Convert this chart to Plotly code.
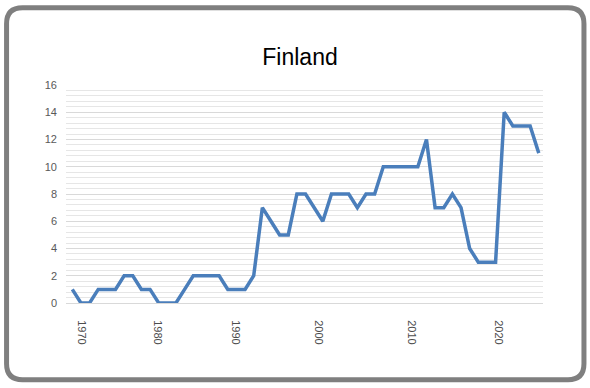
import plotly.graph_objects as go

# ---- data ----
years = list(range(1969, 2024))
values = [1, 0, 0, 1, 1, 1, 2, 2, 1, 1,
          0, 0, 0, 1, 2, 2, 2, 2, 1, 1,
          1, 2, 7, 6, 5, 5, 8, 8, 7, 6,
          8, 8, 8, 7, 8, 8, 10, 10, 10, 10,
          10, 12, 7, 7, 8, 7, 4, 3, 3, 3,
          14, 13, 13, 13, 11]
tick_labels = ["1970", "1980", "1990", "2000", "2010", "2020"]
tick_positions = [1970.04, 1978.87, 1987.93, 1997.56, 2008.28, 2018.37]
y_ticks = list(range(0, 17, 2))

# ---- layout geometry (pixels) ----
W, H = 590, 388
L, R, T, B = 66, 46.5, 85, 84.5
PW, PH = W - L - R, H - T - B


def px(x):
    return (x - L) / PW


def py(y):
    return (H - B - y) / PH


def rounded_rect(x0, y0, x1, y1, r):
    return (f"M {px(x0 + r)} {py(y0)} L {px(x1 - r)} {py(y0)} "
            f"Q {px(x1)} {py(y0)} {px(x1)} {py(y0 + r)} "
            f"L {px(x1)} {py(y1 - r)} "
            f"Q {px(x1)} {py(y1)} {px(x1 - r)} {py(y1)} "
            f"L {px(x0 + r)} {py(y1)} "
            f"Q {px(x0)} {py(y1)} {px(x0)} {py(y1 - r)} "
            f"L {px(x0)} {py(y0 + r)} "
            f"Q {px(x0)} {py(y0)} {px(x0 + r)} {py(y0)} Z")


fig = go.Figure()
fig.add_trace(go.Scatter(
    x=years, y=values, mode="lines",
    line=dict(color="#4a7ebb", width=3.5),
    hoverinfo="x+y", showlegend=False,
))

fig.update_layout(
    width=W, height=H,
    margin=dict(l=L, r=R, t=T, b=B, pad=0),
    paper_bgcolor="white", plot_bgcolor="white",
    title=dict(text="Finland", x=300 / W, xref="container", xanchor="center",
               y=1 - 57 / H, yref="container", yanchor="middle",
               font=dict(family="Liberation Sans, Arial, sans-serif", size=23, color="#000000")),
    font=dict(family="Liberation Sans, Arial, sans-serif", size=11, color="#595959"),
    xaxis=dict(
        range=[1968.27, 2023.49],
        tickmode="array", tickvals=tick_positions, ticktext=tick_labels,
        tickangle=90, ticks="", ticklabelstandoff=14,
        showgrid=False, zeroline=False,
        showline=True, linecolor="#d9d9d9", linewidth=1,
        tickfont=dict(size=11, color="#4d4d4d"),
    ),
    yaxis=dict(
        range=[0, 16],
        tickmode="array", tickvals=y_ticks,
        ticks="", ticklabelstandoff=8,
        showgrid=True, gridcolor="#d9d9d9", gridwidth=1,
        minor=dict(dtick=0.4, showgrid=True, gridcolor="#e6e6e6", gridwidth=1),
        zeroline=False, showline=False,
        tickfont=dict(size=11, color="#595959"),
    ),
    shapes=[dict(
        type="path", xref="paper", yref="paper",
        path=rounded_rect(6.5, 7.5, 584.5, 380.5, 16),
        line=dict(color="#7f7f7f", width=5),
        fillcolor="rgba(0,0,0,0)", layer="above",
    )],
)

fig.write_html("out.html",
               config={"displayModeBar": False},
               post_script="document.body.style.margin='0';document.body.style.overflow='hidden';")
